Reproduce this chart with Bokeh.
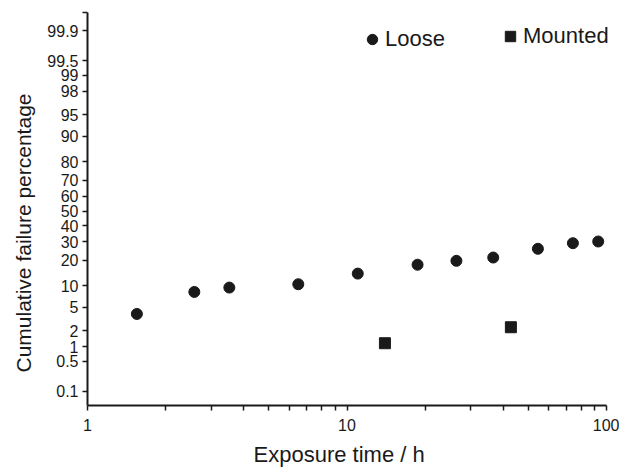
from statistics import NormalDist
from bokeh.plotting import figure
from bokeh.models import Range1d, FixedTicker, Legend, LegendItem, Title
from bokeh.embed import file_html
from bokeh.resources import INLINE

# ---- data ----
loose_hours = [1.55, 2.58, 3.52, 6.49, 11.0, 18.7, 26.4, 36.6, 54.4, 74.2, 92.9]
loose_pct = [3.9, 8.3, 9.5, 10.5, 14.2, 17.9, 19.7, 21.3, 25.9, 29.1, 30.1]
mounted_hours = [14.0, 42.8]
mounted_pct = [1.18, 2.33]

y_tick_pct = [0.1, 0.5, 1, 2, 5, 10, 20, 30, 40, 50, 60, 70, 80, 90, 95, 98, 99, 99.5, 99.9]
y_tick_labels = ["0.1", "0.5", "1", "2", "5", "10", "20", "30", "40", "50",
                 "60", "70", "80", "90", "95", "98", "99", "99.5", "99.9"]
x_major = [1, 10, 100]
x_major_labels = ["1", "10", "100"]
x_minor = [2, 3, 4, 5, 6, 7, 8, 9, 20, 30, 40, 50, 60, 70, 80, 90]

# normal-probability scale
nd = NormalDist()
def probit(pct):
    return nd.inv_cdf(pct / 100.0)

loose_z = [probit(v) for v in loose_pct]
mounted_z = [probit(v) for v in mounted_pct]
y_ticks = [probit(v) for v in y_tick_pct]

Y_LO, Y_HI = -3.33, 3.40
X_LO, X_HI = 1, 112.2   # axis itself drawn only from 1 to 100
FONT = "Liberation Sans"
INK = "#1a1a1a"

p = figure(width=619, height=472, x_axis_type="log",
           x_range=Range1d(X_LO, X_HI), y_range=Range1d(Y_LO, Y_HI),
           output_backend="svg", toolbar_location=None,
           min_border_left=87, min_border_right=0,
           min_border_top=12, min_border_bottom=67)
p.outline_line_color = None
p.xgrid.visible = False
p.ygrid.visible = False
p.background_fill_color = "white"
p.border_fill_color = "white"

r_loose = p.scatter(loose_hours, loose_z, marker="circle", size=11,
                    fill_color=INK, line_color=INK)
r_mounted = p.scatter(mounted_hours, mounted_z, marker="square", size=11,
                      fill_color=INK, line_color=INK)

# x axis
xa = p.xaxis[0]
xa.bounds = (x_major[0], x_major[-1])
xa.ticker = FixedTicker(ticks=x_major, minor_ticks=x_minor)
xa.major_label_overrides = {float(t): l for t, l in zip(x_major, x_major_labels)}

# y axis
ya = p.yaxis[0]
ya.ticker = FixedTicker(ticks=y_ticks + [Y_HI])
overrides = {t: l for t, l in zip(y_ticks, y_tick_labels)}
overrides[Y_HI] = ""
ya.major_label_overrides = overrides
ya.minor_tick_line_color = None

for ax in (xa, ya):
    ax.axis_line_color = INK
    ax.axis_line_width = 2
    ax.major_tick_line_color = INK
    ax.major_tick_line_width = 1.5
    ax.major_tick_in = 0
    ax.major_tick_out = 5
    ax.minor_tick_in = 0
    ax.minor_tick_out = 5
    ax.minor_tick_line_width = 1.5
    ax.major_label_text_font = FONT
    ax.major_label_text_font_size = "16px"
    ax.major_label_text_color = INK
xa.minor_tick_line_color = INK
xa.major_label_standoff = 8
ya.major_label_standoff = 4

# axis titles, positioned as in the reference
xtitle = Title(text="Exposure time / h", align="left",
               offset=166, standoff=12,
               text_font=FONT, text_font_size="22px",
               text_font_style="normal", text_color=INK)
p.add_layout(xtitle, "below")

ytitle = Title(text="Cumulative failure percentage", align="left",
               offset=33, standoff=19,
               text_font=FONT, text_font_size="21px",
               text_font_style="normal", text_color=INK)
p.add_layout(ytitle, "left")

def make_legend(label, renderer, loc):
    lg = Legend(items=[LegendItem(label=label, renderers=[renderer])],
                location=loc, orientation="horizontal",
                border_line_color=None, background_fill_alpha=0,
                glyph_width=26, glyph_height=28, label_standoff=0,
                padding=0, margin=0, spacing=0,
                label_text_font=FONT, label_text_font_size="22px",
                label_text_color=INK)
    return lg

p.add_layout(make_legend("Loose", r_loose, (272, 352)))
p.add_layout(make_legend("Mounted", r_mounted, (410, 355)))

open("out.html", "w").write(file_html(p, INLINE))
